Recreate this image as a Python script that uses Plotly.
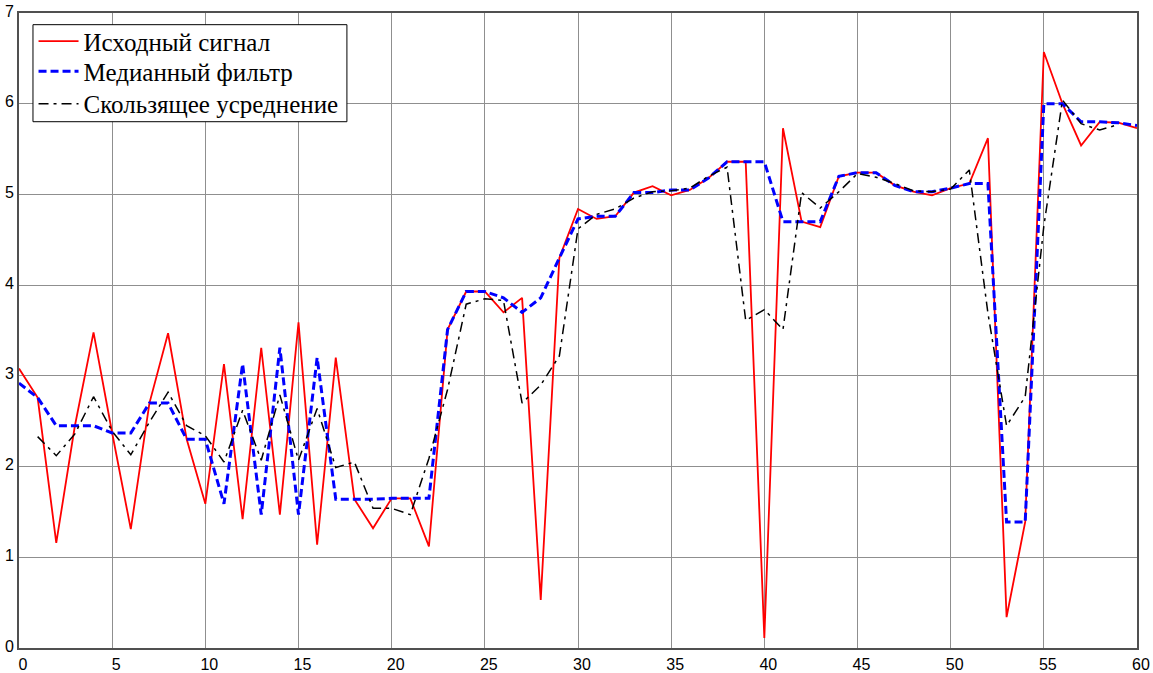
import plotly.graph_objects as go

x_signal = list(range(0, 61))
signal = [3.08, 2.76, 1.16, 2.45, 3.48, 2.37, 1.31, 2.70, 3.47, 2.30,
          1.59, 3.13, 1.42, 3.31, 1.47, 3.59, 1.14, 3.20, 1.64, 1.32,
          1.65, 1.65, 1.12, 3.51, 3.93, 3.93, 3.70, 3.86, 0.53, 4.30,
          4.84, 4.73, 4.76, 5.02, 5.09, 4.99, 5.05, 5.18, 5.36, 5.36,
          0.11, 5.73, 4.70, 4.64, 5.20, 5.24, 5.24, 5.10, 5.03, 4.99,
          5.07, 5.12, 5.62, 0.34, 1.39, 6.57, 6.00, 5.54, 5.80, 5.79,
          5.73]

x_median = list(range(0, 61))
median = [2.92, 2.76, 2.45, 2.45, 2.45, 2.37, 2.37, 2.70, 2.70, 2.30,
          2.30, 1.59, 3.13, 1.47, 3.31, 1.47, 3.20, 1.64, 1.64, 1.64,
          1.65, 1.65, 1.65, 3.51, 3.93, 3.93, 3.86, 3.70, 3.86, 4.30,
          4.73, 4.76, 4.76, 5.02, 5.02, 5.05, 5.05, 5.18, 5.36, 5.36,
          5.36, 4.70, 4.70, 4.70, 5.20, 5.24, 5.24, 5.10, 5.03, 5.03,
          5.07, 5.12, 5.12, 1.39, 1.39, 6.00, 6.00, 5.80, 5.80, 5.79,
          5.76]

x_avg = list(range(1, 60))
moving_avg = [2.33, 2.12, 2.36, 2.77, 2.39, 2.13, 2.49, 2.82, 2.45,
              2.34, 2.05, 2.62, 2.07, 2.79, 2.07, 2.64, 1.99, 2.05, 1.54,
              1.54, 1.47, 2.09, 2.85, 3.79, 3.85, 3.83, 2.70, 2.90, 3.22,
              4.62, 4.78, 4.84, 4.96, 5.03, 5.04, 5.07, 5.20, 5.30, 3.61,
              3.73, 3.51, 5.02, 4.85, 5.03, 5.23, 5.19, 5.12, 5.04, 5.03,
              5.06, 5.27, 3.69, 2.45, 2.77, 4.65, 6.04, 5.78, 5.71, 5.77]

names = ["Исходный сигнал", "Медианный фильтр", "Скользящее усреднение"]
x_ticks = [0, 5, 10, 15, 20, 25, 30, 35, 40, 45, 50, 55, 60]
y_ticks = [0, 1, 2, 3, 4, 5, 6, 7]

fig = go.Figure()
fig.add_trace(go.Scatter(x=x_signal, y=signal, mode="lines", name=names[0],
                         legend="legend",
                         line=dict(color="#ff0000", width=1.8)))
fig.add_trace(go.Scatter(x=x_median, y=median, mode="lines", name=names[1],
                         legend="legend2",
                         line=dict(color="#0000ff", width=3, dash="8px,4px")))
fig.add_trace(go.Scatter(x=x_avg, y=moving_avg, mode="lines", name=names[2],
                         legend="legend3",
                         line=dict(color="#000000", width=1.5, dash="10px,5px,3px,5px")))

axis_font = dict(family="Liberation Sans", size=16, color="#000000")
legend_font = dict(family="Liberation Serif", size=25, color="#000000")

def leg(y):
    return dict(x=0.013, y=y, xanchor="left", yanchor="middle",
                bgcolor="rgba(0,0,0,0)", borderwidth=0, font=legend_font,
                itemwidth=40)

fig.update_layout(
    width=1153, height=673,
    margin=dict(l=19, r=16, t=13, b=25, autoexpand=False),
    paper_bgcolor="#ffffff", plot_bgcolor="#ffffff",
    showlegend=True,
    legend=leg(0.9553),
    legend2=leg(0.908),
    legend3=leg(0.8567),
    shapes=[dict(type="rect", xref="paper", yref="paper",
                 x0=0.0125, x1=0.2933, y0=0.8288, y1=0.9816,
                 fillcolor="#ffffff", line=dict(color="#000000", width=1),
                 layer="above")],
    xaxis=dict(range=[0, 60], tickvals=x_ticks, ticktext=[str(v) for v in x_ticks],
               showgrid=True, gridcolor="#8f8f8f", gridwidth=1,
               showline=True, linecolor="#505050", linewidth=2, mirror=True,
               zeroline=False, ticks="", tickfont=axis_font, ticklabelstandoff=1,
               ticklabelshift=4, automargin=False),
    yaxis=dict(range=[0, 7], tickvals=y_ticks, ticktext=[str(v) for v in y_ticks],
               showgrid=True, gridcolor="#8f8f8f", gridwidth=1,
               showline=True, linecolor="#505050", linewidth=2, mirror=True,
               zeroline=False, ticks="", tickfont=axis_font, ticklabelstandoff=0,
               ticklabelshift=-2, automargin=False),
)

fig.write_html("out.html")
